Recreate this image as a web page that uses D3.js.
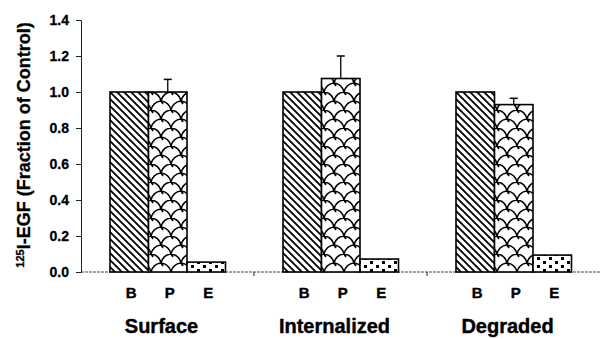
<!DOCTYPE html>
<html><head><meta charset="utf-8">
<script src="https://cdn.jsdelivr.net/npm/d3@7"></script>
<style>body{margin:0;background:#fff}svg{display:block;font-family:"Liberation Sans",Arial,sans-serif}</style>
</head><body><svg id="c" width="600" height="339"></svg>
<script>
const groups = ["Surface", "Internalized", "Degraded"];
const series = ["B", "P", "E"];
const valuesB = [1.0, 1.0, 1.0];
const valuesP = [1.0, 1.075, 0.93];
const valuesE = [0.055, 0.072, 0.094];
const errorsP = [0.07, 0.125, 0.035];
const yTicks = [0, 0.2, 0.4, 0.6, 0.8, 1.0, 1.2, 1.4];

const data = groups.map((g, i) => ({group: g, bars: [
  {s: "B", v: valuesB[i], e: 0},
  {s: "P", v: valuesP[i], e: errorsP[i]},
  {s: "E", v: valuesE[i], e: 0}
]}));

const svg = d3.select("#c");
const m = {left: 81, right: 0, top: 20, bottom: 67};
const W = 600, H = 339;
const x0 = d3.scaleBand().domain(groups).range([m.left, W - m.right]).padding(0);
const x1 = d3.scaleBand().domain(series).range([29, 144.5]).padding(0);
const y = d3.scaleLinear().domain([0, 1.4]).range([H - m.bottom, m.top]);

const defs = svg.append("defs");
// B: diagonal hatch
const pB = defs.append("pattern").attr("id", "pB").attr("patternUnits", "userSpaceOnUse")
  .attr("width", 7).attr("height", 7);
pB.append("rect").attr("width", 7).attr("height", 7).attr("fill", "#fff");
pB.append("path").attr("d", "M-1,-1 L8,8 M-4.5,2.5 L1,8 M2.5,-4.5 L8,1").attr("stroke", "#000").attr("stroke-width", 1.8);
// P: cloud / scale pattern (lobes convex upward)
const pP = defs.append("pattern").attr("id", "pP").attr("patternUnits", "userSpaceOnUse")
  .attr("width", 20).attr("height", 18).attr("x", 0).attr("y", 2);
pP.append("rect").attr("width", 20).attr("height", 18).attr("fill", "#fff");
pP.append("path").attr("d", "M0,9 Q2,1 10,0 Q18,1 20,9 M-10,18 Q-8,10 0,9 Q8,10 10,18 M10,18 Q12,10 20,9 Q28,10 30,18 M10,0 l2,3 M0,9 l2,3 M20,9 l2,3 M10,18 l2,3")
  .attr("fill", "none").attr("stroke", "#000").attr("stroke-width", 1.6);
// E: sparse dots
const pE = defs.append("pattern").attr("id", "pE").attr("patternUnits", "userSpaceOnUse")
  .attr("width", 12).attr("height", 8);
pE.append("rect").attr("width", 12).attr("height", 8).attr("fill", "#fff");
pE.append("rect").attr("x", 2).attr("y", 1).attr("width", 3).attr("height", 3).attr("fill", "#000");
pE.append("rect").attr("x", 8).attr("y", 5).attr("width", 3).attr("height", 3).attr("fill", "#000");
const fills = {B: "url(#pB)", P: "url(#pP)", E: "url(#pE)"};

// axes
svg.append("line").attr("x1", m.left).attr("x2", W).attr("y1", y(0)).attr("y2", y(0))
  .attr("stroke", "#444").attr("stroke-width", 1).attr("stroke-dasharray", "3,1");
const yAxis = svg.append("g").attr("transform", `translate(${m.left},0)`)
  .call(d3.axisLeft(y).tickValues(yTicks).tickFormat(d3.format(".1f")).tickSize(5).tickPadding(7));
yAxis.select(".domain").attr("stroke", "#222");
yAxis.selectAll("line").attr("stroke", "#222");
yAxis.selectAll("text").attr("font-size", 14).attr("font-weight", "bold").attr("fill", "#000")
  .attr("stroke", "#000").attr("stroke-width", 0.3)
  .attr("font-family", "Liberation Sans, Arial, sans-serif");

// group boundary ticks
groups.slice(1).forEach(g => {
  svg.append("line").attr("x1", x0(g)).attr("x2", x0(g)).attr("y1", y(0)).attr("y2", y(0) + 4).attr("stroke", "#222");
});

const gG = svg.selectAll(".grp").data(data).join("g").attr("class", "grp")
  .attr("transform", d => `translate(${x0(d.group)},0)`);
gG.selectAll("rect.bar").data(d => d.bars).join("rect").attr("class", "bar")
  .attr("x", d => x1(d.s)).attr("width", x1.bandwidth())
  .attr("y", d => y(d.v)).attr("height", d => y(0) - y(d.v))
  .attr("fill", d => fills[d.s]).attr("stroke", "#000").attr("stroke-width", 1.6);
const eb = gG.selectAll("g.err").data(d => d.bars.filter(b => b.e > 0)).join("g").attr("class", "err");
eb.append("line").attr("x1", d => x1(d.s) + x1.bandwidth() / 2).attr("x2", d => x1(d.s) + x1.bandwidth() / 2)
  .attr("y1", d => y(d.v)).attr("y2", d => y(d.v + d.e)).attr("stroke", "#000").attr("stroke-width", 1.3);
eb.append("line").attr("x1", d => x1(d.s) + x1.bandwidth() / 2 - 4).attr("x2", d => x1(d.s) + x1.bandwidth() / 2 + 4)
  .attr("y1", d => y(d.v + d.e)).attr("y2", d => y(d.v + d.e)).attr("stroke", "#000").attr("stroke-width", 1.5);

// series letters
gG.selectAll("text.s").data(d => d.bars).join("text").attr("class", "s")
  .attr("x", d => x1(d.s) + x1.bandwidth() / 2 + 2).attr("y", 298)
  .attr("text-anchor", "middle").attr("font-size", 15).attr("font-weight", "bold")
  .attr("stroke", "#000").attr("stroke-width", 0.4).text(d => d.s);
// group labels
gG.append("text").attr("x", x0.bandwidth() / 2 - 6).attr("y", 333)
  .attr("text-anchor", "middle").attr("font-size", 20).attr("font-weight", "bold")
  .attr("stroke", "#000").attr("stroke-width", 0.4).text(d => d.group);

// y title
const t = svg.append("text").attr("transform", `translate(30,145) rotate(-90)`)
  .attr("text-anchor", "middle").attr("font-size", 18).attr("font-weight", "bold")
  .attr("stroke", "#000").attr("stroke-width", 0.3);
t.append("tspan").attr("font-size", 11).attr("dy", -6).text("125");
t.append("tspan").attr("dy", 6).text("I-EGF (Fraction of Control)");
</script></body></html>
